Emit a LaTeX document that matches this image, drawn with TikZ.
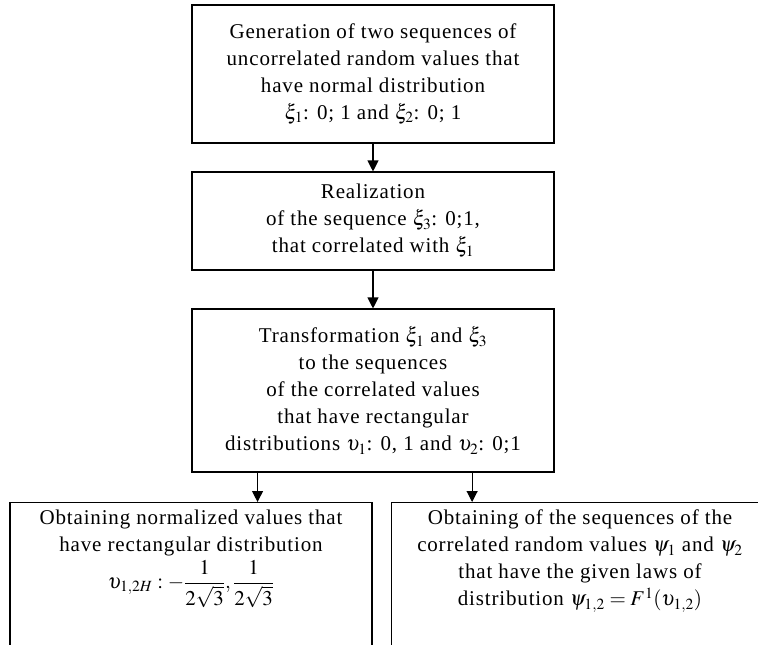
\documentclass[tikz,border=0pt]{standalone}
\usepackage{mathptmx}
\usepackage{amsmath}
\usepackage{fontspec}
\setmainfont{Liberation Serif}[LetterSpace=4]
\usetikzlibrary{arrows.meta,calc}

\begin{document}
\begin{tikzpicture}[x=1pt, y=-1pt,
    box/.style={draw, line width=1.1pt, align=center, inner sep=0pt,
        font=\fontsize{21}{27}\selectfont},
    txt/.style={align=center, inner sep=0pt, font=\fontsize{21}{27}\selectfont},
    arr/.style={-{Triangle[length=11pt, width=11pt]}, line width=1.1pt}]
    \useasboundingbox (0,0) rectangle (758,645);
    \clip (0,0) rectangle (758,645);

    % Generation of xi_1, xi_2
    \node [box, minimum width=362pt, minimum height=138pt] (gen) at (373,74) {
        Generation of two sequences of\\
        uncorrelated random values that\\
        have normal distribution\\
        $\xi_1$: 0; 1 and $\xi_2$: 0; 1};

    % Realization of xi_3
    \node [box, minimum width=362pt, minimum height=98pt] (real) at (373,221) {
        Realization\\
        of the sequence $\xi_3$: 0;1,\\
        that correlated with $\xi_1$};

    % Transformation to rectangular
    \node [box, minimum width=362pt, minimum height=163pt] (trans) at (373,390.5) {
        Transformation $\xi_1$ and $\xi_3$\\
        to the sequences\\
        of the correlated values\\
        that have rectangular\\
        distributions $\upsilon_1$: 0, 1 and $\upsilon_2$: 0;1};

    % Normalized values (left)
    \node [box, minimum width=362pt, minimum height=200pt, anchor=north] (norm) at (191,502) {};
    \node [txt, anchor=north] (normtxt) at (191,510) {
        Obtaining normalized values that\\
        have rectangular distribution\\[3pt]
        $\upsilon_{1,2H}:-\dfrac{1}{2\sqrt{3}},\dfrac{1}{2\sqrt{3}}$};

    % Sequences psi (right)
    \node [box, minimum width=420pt, minimum height=200pt, anchor=north west] (psi) at (391,502) {};
    \node [txt, anchor=north] (psitxt) at (580,510) {
        Obtaining of the sequences of the\\
        correlated random values $\psi_1$ and $\psi_2$\\
        that have the given laws of\\
        distribution $\psi_{1,2}=F^{1}(\upsilon_{1,2})$};

    % Arrows
    \draw [arr] (gen.south) -- (real.north);
    \draw [arr] (real.south) -- (trans.north);
    \coordinate (outl) at ($(trans.south west)!0.182!(trans.south east)$);
    \coordinate (outr) at ($(trans.south west)!0.773!(trans.south east)$);
    \draw [arr] (outl) -- (outl |- norm.north);
    \draw [arr] (outr) -- (outr |- psi.north);
\end{tikzpicture}
\end{document}
